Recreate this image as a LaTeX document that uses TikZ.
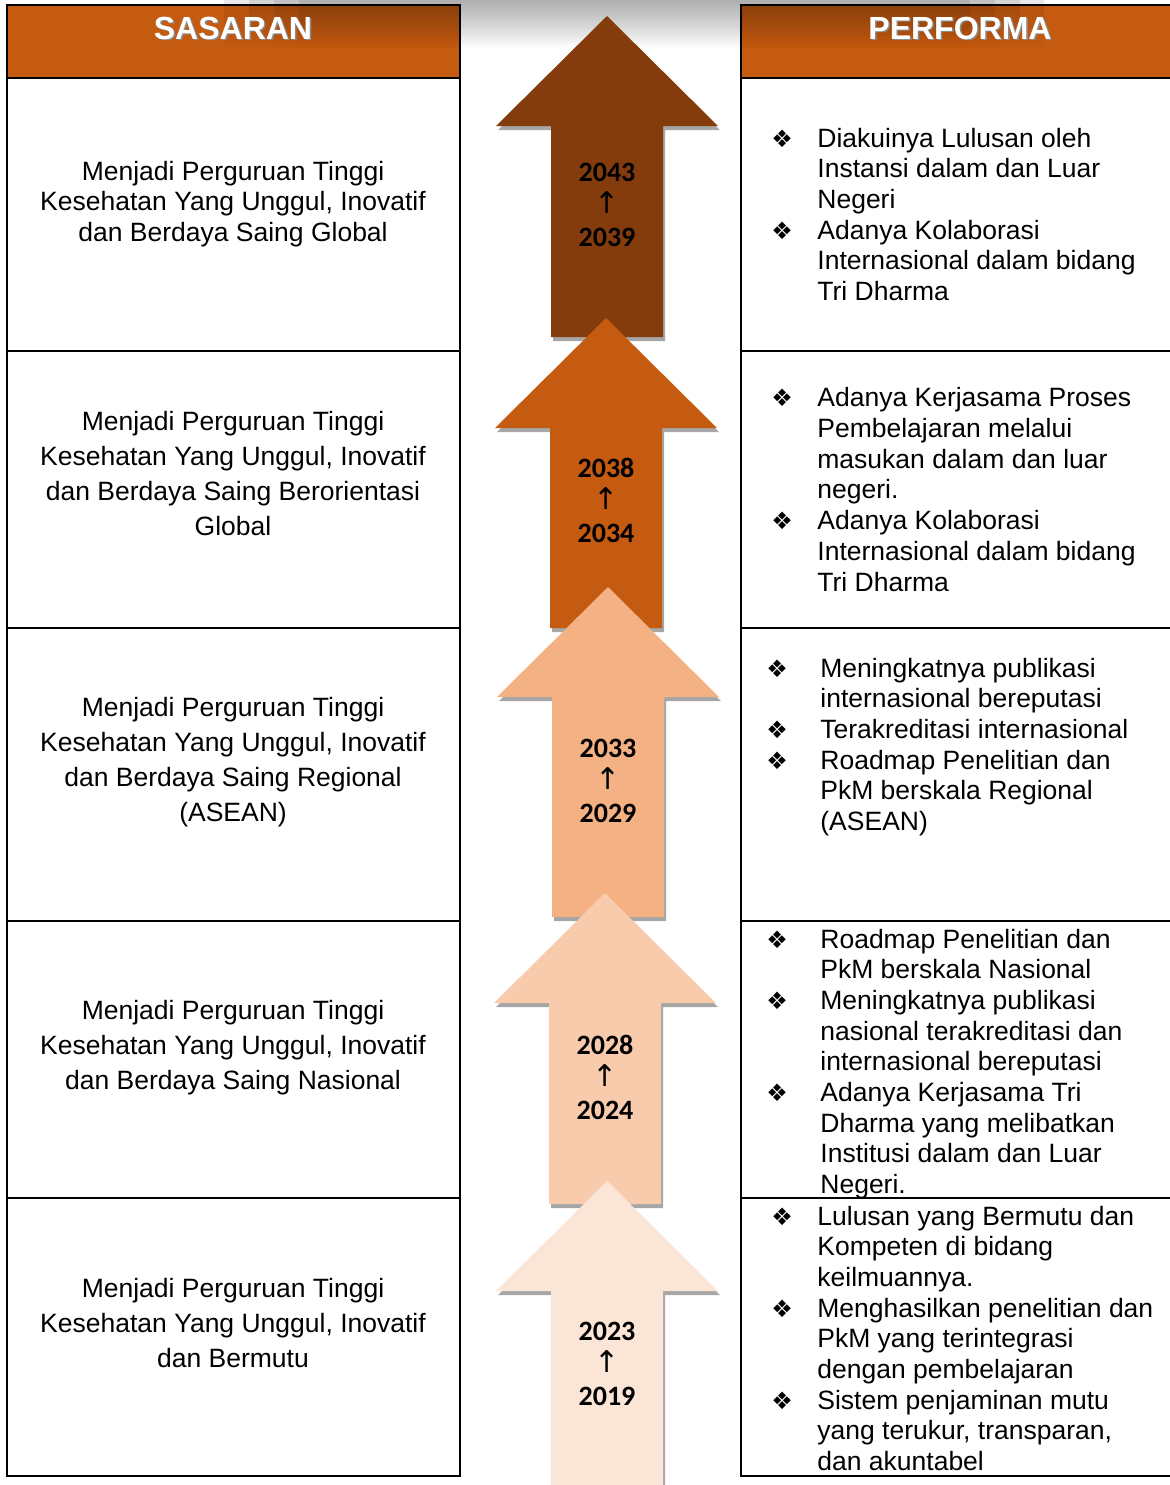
\documentclass[tikz,border=0pt]{standalone}
\usepackage{fontspec}
\setmainfont{Liberation Sans}
\newfontfamily\yearfont{Carlito}
\newfontfamily\symfont{DejaVu Sans}
\usetikzlibrary{shadows,fadings}

\definecolor{headfill}{HTML}{C55A11}
\definecolor{arrowA}{HTML}{843C0C}
\definecolor{arrowB}{HTML}{C55A11}
\definecolor{arrowC}{HTML}{F4B183}
\definecolor{arrowD}{HTML}{F8CBAD}
\definecolor{arrowE}{HTML}{FBE5D6}

\newlength{\bulw}
\newcommand{\bul}{\makebox[\bulw][l]{\symfont\fontsize{12}{12}\selectfont ❖}}
\newcommand{\ind}{\hspace*{\bulw}}
\newcommand{\naik}{{\symfont\mdseries\fontsize{15}{15}\selectfont ↑}}
% up arrow: centre x, tip y, bottom y, colour
\newcommand{\panah}[4]{%
  \fill[#4, arrowshadow] (#1,#2) -- ({#1+111},{#2+110}) -- ({#1+56},{#2+110})
    -- ({#1+56},#3) -- ({#1-56},#3) -- ({#1-56},{#2+110}) -- ({#1-111},{#2+110}) -- cycle;}

\tikzset{
  arrowshadow/.style={drop shadow={shadow xshift=1pt, shadow yshift=-2pt, opacity=.35, fill=black}},
  cell/.style={align=center, font=\fontsize{13.25}{17.5}\selectfont, inner sep=0pt, anchor=base},
  perf/.style={align=left, font=\fontsize{13.25}{15.35}\selectfont\setlength{\bulw}{#1}, inner sep=0pt, anchor=base west},
  year/.style={align=center, font=\yearfont\bfseries\fontsize{14}{16.25}\selectfont, inner sep=0pt, anchor=base},
  headtext/.style={font=\bfseries\fontsize{16}{16}\selectfont, text=white, inner sep=0pt, anchor=base},
  headshade/.style={font=\bfseries\fontsize{16}{16}\selectfont, text=black!45, inner sep=0pt, anchor=base},
  rule/.style={line width=1pt, black},
}

\begin{document}
\begin{tikzpicture}[x=0.5pt, y=-0.5pt]
  \useasboundingbox (0,0) rectangle (1169,1485);

  % Header boxes
  \fill[headfill] (7,5) rectangle (460,78);
  \fill[headfill] (741,5) rectangle (1180,78);
  \foreach \w in {0,25,50,75}
    \fill[black, fill opacity=.09, path fading=south] ({224+\w},0) rectangle ({1045-\w},48);
  \node[headshade] at (234.5,40.5) {SASARAN};
  \node[headtext] (hs) at (233,39) {SASARAN};
  \node[headshade] at (961.5,40.5) {PERFORMA};
  \node[headtext] (hp) at (960,39) {PERFORMA};

  % Table lines
  \draw[rule] (7,5) rectangle (460,1476);
  \draw[rule] (1180,5) -- (741,5) -- (741,1476) -- (1180,1476);
  \foreach \y in {78,351,628,921,1198} {
    \draw[rule] (7,\y) -- (460,\y);
    \draw[rule] (741,\y) -- (1180,\y);
  }

  % Arrows
  \panah{607}{16}{337}{arrowA}
  \panah{606}{318}{628}{arrowB}
  \panah{608}{587}{917}{arrowC}
  \panah{605}{893}{1204}{arrowD}
  \panah{607}{1181}{1500}{arrowE}

  % Years (anchor at the last line)
  \node[year] (y1) at (607,246) {2043\\\naik\\2039};
  \node[year] (y2) at (606,542) {2038\\\naik\\2034};
  \node[year] (y3) at (608,822) {2033\\\naik\\2029};
  \node[year] (y4) at (605,1119) {2028\\\naik\\2024};
  \node[year] (y5) at (607,1405) {2023\\\naik\\2019};

  % Sasaran
  \node[cell, font=\fontsize{13.25}{15.25}\selectfont] (s1) at (233,241)
    {Menjadi Perguruan Tinggi\\Kesehatan Yang Unggul, Inovatif\\dan Berdaya Saing Global};
  \node[cell] (s2) at (233,535)
    {Menjadi Perguruan Tinggi\\Kesehatan Yang Unggul, Inovatif\\dan Berdaya Saing Berorientasi\\Global};
  \node[cell] (s3) at (233,821)
    {Menjadi Perguruan Tinggi\\Kesehatan Yang Unggul, Inovatif\\dan Berdaya Saing Regional\\(ASEAN)};
  \node[cell] (s4) at (233,1089)
    {Menjadi Perguruan Tinggi\\Kesehatan Yang Unggul, Inovatif\\dan Berdaya Saing Nasional};
  \node[cell] (s5) at (233,1367)
    {Menjadi Perguruan Tinggi\\Kesehatan Yang Unggul, Inovatif\\dan Bermutu};

  % Performa
  \node[perf=23pt] (p1) at (771,300.5)
    {\bul Diakuinya Lulusan oleh\\\ind Instansi dalam dan Luar\\\ind Negeri\\
     \bul Adanya Kolaborasi\\\ind Internasional dalam bidang\\\ind Tri Dharma};
  \node[perf=23pt] (p2) at (771,591)
    {\bul Adanya Kerjasama Proses\\\ind Pembelajaran melalui\\\ind masukan dalam dan luar\\\ind negeri.\\
     \bul Adanya Kolaborasi\\\ind Internasional dalam bidang\\\ind Tri Dharma};
  \node[perf=27pt] (p3) at (766,830.5)
    {\bul Meningkatnya publikasi\\\ind internasional bereputasi\\
     \bul Terakreditasi internasional\\
     \bul Roadmap Penelitian dan\\\ind PkM berskala Regional\\\ind (ASEAN)};
  \node[perf=27pt] (p4) at (766,1193.6)
    {\bul Roadmap Penelitian dan\\\ind PkM berskala Nasional\\
     \bul Meningkatnya publikasi\\\ind nasional terakreditasi dan\\\ind internasional bereputasi\\
     \bul Adanya Kerjasama Tri\\\ind Dharma yang melibatkan\\\ind Institusi dalam dan Luar\\\ind Negeri.};
  \node[perf=23pt] (p5) at (771,1470.6)
    {\bul Lulusan yang Bermutu dan\\\ind Kompeten di bidang\\\ind keilmuannya.\\
     \bul Menghasilkan penelitian dan\\\ind PkM yang terintegrasi\\\ind dengan pembelajaran\\
     \bul Sistem penjaminan mutu\\\ind yang terukur, transparan,\\\ind dan akuntabel};
\end{tikzpicture}
\end{document}
